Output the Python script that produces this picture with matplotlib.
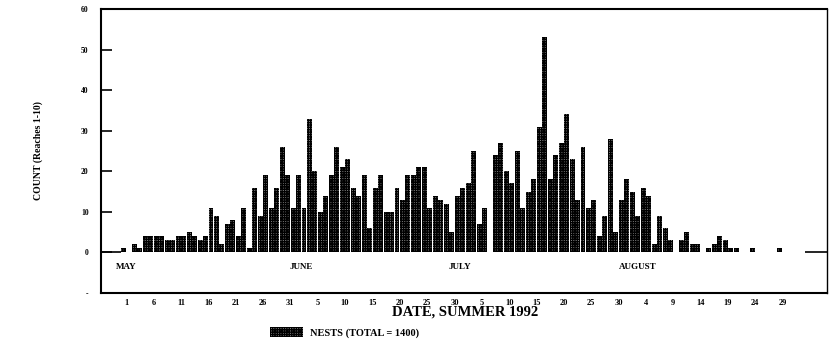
import matplotlib
matplotlib.use("Agg")
import matplotlib.pyplot as plt
import numpy as np

# daily nest counts, day 0 = May 1 1992
nests = [1, 0, 2, 1, 4, 4, 4, 4, 3, 3,
         4, 4, 5, 4, 3, 4, 11, 9, 2, 7,
         8, 4, 11, 1, 16, 9, 19, 11, 16, 26,
         19, 11, 19, 11, 33, 20, 10, 14, 19, 26,
         21, 23, 16, 14, 19, 6, 16, 19, 10, 10,
         16, 13, 19, 19, 21, 21, 11, 14, 13, 12,
         5, 14, 16, 17, 25, 7, 11, 0, 24, 27,
         20, 17, 25, 11, 15, 18, 31, 53, 18, 24,
         27, 34, 23, 13, 26, 11, 13, 4, 9, 28,
         5, 13, 18, 15, 9, 16, 14, 2, 9, 6,
         3, 0, 3, 5, 2, 2, 0, 1, 2, 4,
         3, 1, 1, 0, 0, 1, 0, 0, 0, 0,
         1, 0, 0, 0, 0]

tick_labels = ['1', '6', '11', '16', '21', '26', '31', '5', '10', '15', '20', '25', '30',
               '5', '10', '15', '20', '25', '30', '4', '9', '14', '19', '24', '29']
months = ['MAY', 'JUNE', 'JULY', 'AUGUST']
month_days = [0.5, 32.5, 61.5, 94]

plt.rcParams['font.family'] = ['Liberation Serif', 'DejaVu Serif']
plt.rcParams['font.weight'] = 'bold'
plt.rcParams['hatch.linewidth'] = 1.0

fig = plt.figure(figsize=(8.33, 3.45), dpi=100)
ax = fig.add_axes([0.1213, 0.1507, 0.8715, 0.8233])

days = np.arange(len(nests))
bars = ax.bar(days, nests, width=0.9, color='#8a8a8a', edgecolor='black',
              hatch='+++++++', linewidth=0, label='NESTS (TOTAL = 1400)')

x0, x1 = -4.1, 128.6
ax.set_xlim(x0, x1)
ax.set_ylim(-10, 60)

# zero line only outside the bar span
ax.hlines(0, x0, days[0] - 0.5, color='black', lw=1.2)
ax.hlines(0, days[-1] + 0.5, x1, color='black', lw=1.2)

ax.set_yticks([-10, 0, 10, 20, 30, 40, 50, 60])
ax.set_yticklabels(['-', '0', '10', '20', '30', '40', '50', '60'])
ax.tick_params(axis='y', direction='in', length=8, width=1.2, labelsize=5.5, pad=9)

ax.set_xticks(np.arange(len(tick_labels)) * 5 + 0.5)
ax.set_xticklabels(tick_labels)
ax.tick_params(axis='x', length=0, labelsize=6, pad=4)

for m, d in zip(months, month_days):
    ax.text(d, -3.6, m, ha='center', va='center', fontsize=6.5, fontweight='bold')

for s in ax.spines.values():
    s.set_linewidth(1.5)
ax.spines['right'].set_linewidth(1.0)

ax.set_ylabel('COUNT (Reaches 1-10)', fontsize=7, fontweight='bold', labelpad=27)
fig.text(0.558, 0.095, 'DATE, SUMMER 1992', ha='center', va='center',
         fontsize=10.5, fontweight='bold')

fig.legend(handles=[bars], labels=['NESTS (TOTAL = 1400)'], loc='center left',
           bbox_to_anchor=(0.313, 0.037), frameon=False, fontsize=7.5,
           handlelength=3.2, handleheight=1.2, handletextpad=0.6)

fig.savefig('out.png', dpi=100)
